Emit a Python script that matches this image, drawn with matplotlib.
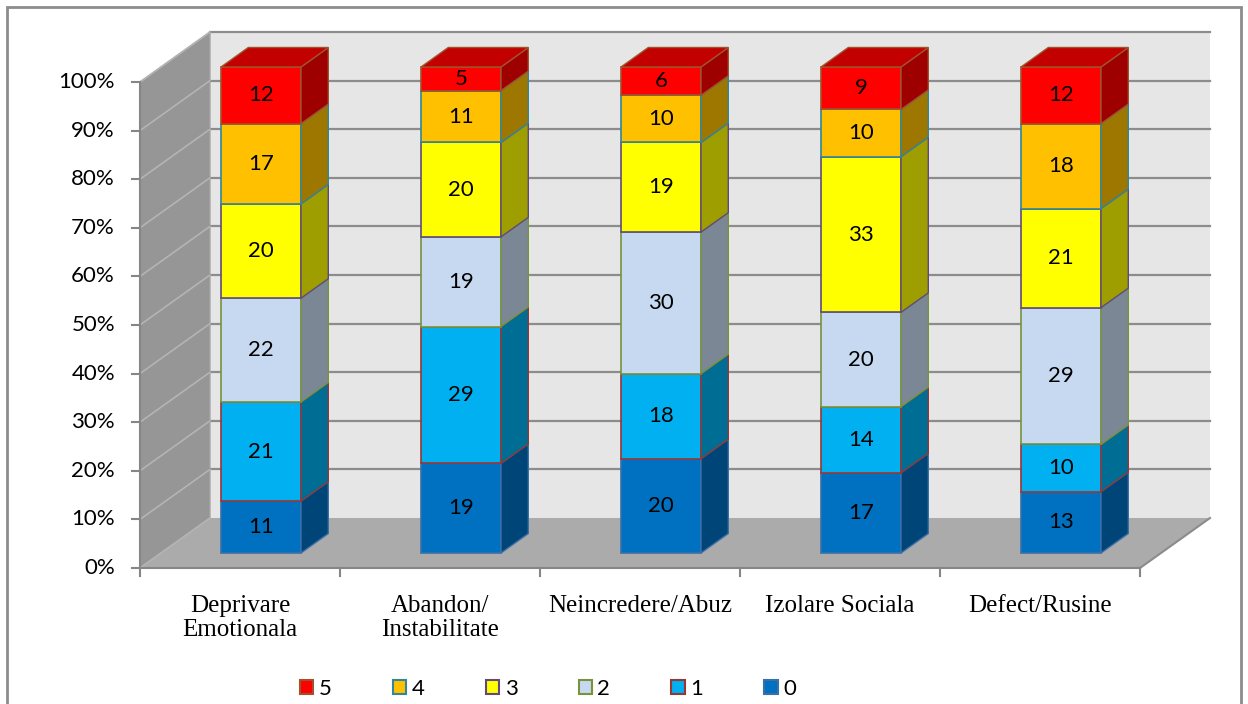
import numpy as np
import matplotlib.pyplot as plt
from matplotlib.patches import Polygon, Patch, Rectangle
from matplotlib.colors import to_rgb

categories = ["Deprivare\nEmotionala", "Abandon/\nInstabilitate", "Neincredere/Abuz",
              "Izolare Sociala", "Defect/Rusine"]
series_names = ["0", "1", "2", "3", "4", "5"]
s0 = [11, 19, 20, 17, 13]
s1 = [21, 29, 18, 14, 10]
s2 = [22, 19, 30, 20, 29]
s3 = [20, 20, 19, 33, 21]
s4 = [17, 11, 10, 10, 18]
s5 = [12, 5, 6, 9, 12]
yticks = [0, 10, 20, 30, 40, 50, 60, 70, 80, 90, 100]

face_colors = ["#0070C0", "#00B0F0", "#C6D9F1", "#FFFF00", "#FFC000", "#FF0000"]
edge_colors = ["#3A6FA8", "#953735", "#77933C", "#604A7B", "#31859C", "#A0522D"]

values = np.array([s0, s1, s2, s3, s4, s5], dtype=float)
pct = values / values.sum(axis=0) * 100

W, H = 1248, 704
fig = plt.figure(figsize=(W / 100, H / 100), dpi=100)
ax = fig.add_axes([0, 0, 1, 1])
# front plane: category i centred at pixel 240 + 200 i, 0% at y=568, 100% at y=82
px_x = 200.0
px_y = 4.86
ax.set_xlim(-0.5 - 140 / px_x, -0.5 + (W - 140) / px_x)
ax.set_ylim(-(H - 568) / px_y, 568 / px_y)
ax.axis("off")

# depth vector (full depth of the box)
wx, wy = 70 / px_x, 50 / px_y
front_d, back_d = 0.3, 0.69
fx, fy = front_d * wx, front_d * wy
ddx, ddy = (back_d - front_d) * wx, (back_d - front_d) * wy

x0, x1 = -0.5, len(categories) - 0.5

# walls
ax.add_patch(Polygon([(x0 + wx, wy), (x1 + wx, wy), (x1 + wx, 100 + wy), (x0 + wx, 100 + wy)],
                     closed=True, fc="#E6E6E6", ec="none", zorder=1))
ax.add_patch(Polygon([(x0, 0), (x0, 100), (x0 + wx, 100 + wy), (x0 + wx, wy)],
                     closed=True, fc="#969696", ec="#A6A6A6", lw=1, zorder=1))
ax.add_patch(Polygon([(x0, 0), (x1, 0), (x1 + wx, wy), (x0 + wx, wy)],
                     closed=True, fc="#ABABAB", ec="none", zorder=1))
ax.plot([x1, x1 + wx], [0, wy], color="#8C8C8C", lw=1.5, zorder=2)

for v in yticks:
    if v > 0:
        ax.plot([x0 + wx, x1 + wx], [v + wy, v + wy], color="#8C8C8C", lw=1.6, zorder=2)
    ax.plot([x0, x0 + wx], [v, v + wy], color="#B4B4B4", lw=1.2, zorder=2)
    ax.plot([x0 - 0.04, x0], [v, v], color="#868686", lw=1.5, zorder=2)
    ax.text(x0 - 0.125, v, f"{v}%", ha="right", va="center", fontsize=16,
            family="Lato", color="#000000")

# axis lines
ax.plot([x0, x0], [0, 100], color="#868686", lw=1.5, zorder=2)
ax.plot([x0, x1], [0, 0], color="#868686", lw=1.5, zorder=2)
for t in np.arange(len(categories) + 1) - 0.5:
    ax.plot([t, t], [0, -1.6], color="#868686", lw=1.5, zorder=2)

xs = np.arange(len(categories))
bw = 0.4


def shade(c, f):
    r, g, b = to_rgb(c)
    return (r * f, g * f, b * f)


bottoms = np.zeros(len(categories))
for k in range(len(series_names)):
    h = pct[k]
    ax.bar(xs + fx, h, bottom=bottoms + fy, width=bw, color=face_colors[k],
           edgecolor=edge_colors[k], lw=1.2, zorder=3)
    for i in range(len(categories)):
        xr = xs[i] + fx + bw / 2
        y0b = bottoms[i] + fy
        y1b = bottoms[i] + h[i] + fy
        ax.add_patch(Polygon([(xr, y0b), (xr, y1b), (xr + ddx, y1b + ddy), (xr + ddx, y0b + ddy)],
                             closed=True, fc=shade(face_colors[k], 0.62),
                             ec=edge_colors[k], lw=1.0, zorder=3))
        if k == len(series_names) - 1:
            xl = xs[i] + fx - bw / 2
            ax.add_patch(Polygon([(xl, y1b), (xr, y1b), (xr + ddx, y1b + ddy), (xl + ddx, y1b + ddy)],
                                 closed=True, fc=shade(face_colors[k], 0.76),
                                 ec=edge_colors[k], lw=1.0, zorder=3))
        ax.text(xs[i] + fx, y0b + h[i] / 2, f"{int(values[k, i])}", ha="center", va="center",
                fontsize=16, family="Lato", color="#000000", zorder=4)
    bottoms = bottoms + h

for i, lab in enumerate(categories):
    ax.text(xs[i], -5.6, lab, ha="center", va="top", fontsize=18,
            family="Liberation Serif", linespacing=1.1, color="#000000")

# chart border
fig.patches.append(Rectangle((7 / W, -0.05), (1241 - 7) / W, 1.05 - 7 / H,
                             transform=fig.transFigure, fill=False,
                             ec="#8C8C8C", lw=2, zorder=0))

handles = [Patch(fc=face_colors[k], ec=edge_colors[k], lw=1.5, label=series_names[k])
           for k in range(len(series_names) - 1, -1, -1)]
fig.legend(handles=handles, ncol=6, loc="center", bbox_to_anchor=(548 / W, 1 - 689 / H),
           frameon=False, handlelength=0.6, handleheight=0.6, handletextpad=0.25,
           columnspacing=2.75, prop={"family": "Lato", "size": 16})

fig.savefig("out.png", dpi=100)
